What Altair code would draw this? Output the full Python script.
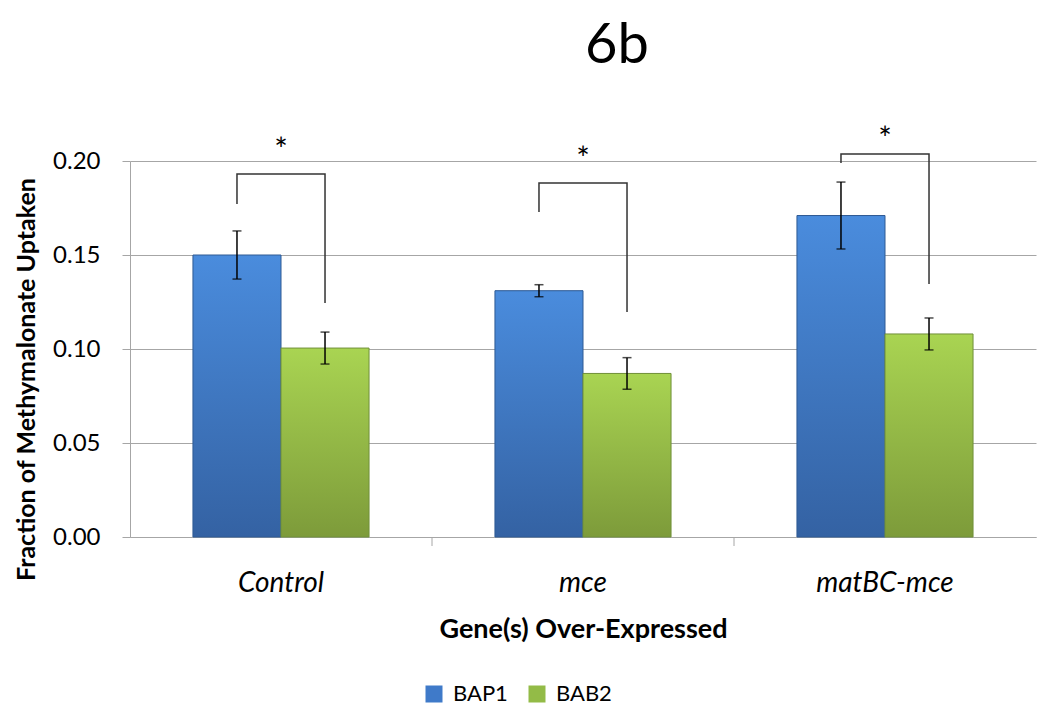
import altair as alt
import pandas as pd

# ---- data ----
genes = ["Control", "mce", "matBC-mce"]
series = ["BAP1", "BAB2"]
bap1 = [0.150, 0.131, 0.171]
bab2 = [0.1005, 0.087, 0.108]
bap1_err = [0.0128, 0.0032, 0.0178]
bab2_err = [0.0085, 0.0084, 0.0085]
# significance brackets: left-leg end, top, right-leg end
bracket_left = [0.1771, 0.1729, 0.1990]
bracket_top = [0.1931, 0.1883, 0.2037]
bracket_right = [0.1245, 0.1197, 0.1346]
star_y = [0.2000, 0.1952, 0.2059]
y_ticks = [0.0, 0.05, 0.10, 0.15, 0.20]
boundaries = [1, 2]

FONT = "Lato"
GRID = "#A6A6A6"

rows = []
for i, g in enumerate(genes):
    for s, vals, errs in (("BAP1", bap1, bap1_err), ("BAB2", bab2, bab2_err)):
        rows.append({"Gene": g, "Series": s, "Value": vals[i],
                     "lo": vals[i] - errs[i], "hi": vals[i] + errs[i]})
bars = pd.DataFrame(rows)

brows = []
for i, g in enumerate(genes):
    brows += [
        {"Gene": g, "Series": "BAP1", "y": bracket_left[i], "k": 0},
        {"Gene": g, "Series": "BAP1", "y": bracket_top[i], "k": 1},
        {"Gene": g, "Series": "BAB2", "y": bracket_top[i], "k": 2},
        {"Gene": g, "Series": "BAB2", "y": bracket_right[i], "k": 3},
    ]
brackets = pd.DataFrame(brows)
stars = pd.DataFrame({"Gene": genes, "y": star_y, "t": ["*"] * 3})
ticks_df = pd.DataFrame({"b": boundaries})
title_df = pd.DataFrame({"t": ["6b"]})

x_enc = alt.X(
    "Gene:N", sort=genes,
    scale=alt.Scale(domain=genes, paddingInner=0.417, paddingOuter=0.2085),
    axis=alt.Axis(title="Gene(s) Over-Expressed", labelAngle=0,
                  labelFontStyle="italic", labelFontSize=28, labelFont=FONT,
                  labelColor="black", labelPadding=32, ticks=False,
                  domainColor=GRID, domainWidth=1,
                  titleFont=FONT, titleFontSize=27, titleFontWeight="bold",
                  titleColor="black", titleY=79),
)
xo_enc = alt.XOffset("Series:N", sort=series,
                     scale=alt.Scale(domain=series, paddingInner=0, paddingOuter=0))
y_scale = alt.Scale(domain=[0, 0.2], nice=False)
y_enc = alt.Y(
    "Value:Q", scale=y_scale,
    axis=alt.Axis(title="Fraction of Methymalonate Uptaken", values=y_ticks,
                  format=".2f", grid=True, gridColor=GRID, gridWidth=1,
                  tickColor=GRID, tickSize=8, domainColor=GRID,
                  labelFont=FONT, labelFontSize=24, labelColor="black",
                  labelPadding=22, titleFont=FONT, titleFontSize=25,
                  titleFontWeight="bold", titleColor="black",
                  titleX=-96, titleY=218, titleBaseline="alphabetic"),
)

base_bar = alt.Chart(bars).mark_bar().encode(
    x=x_enc, xOffset=xo_enc, y=y_enc,
    color=alt.Color("Series:N", sort=series,
                    scale=alt.Scale(domain=series, range=["#3F7AC9", "#93BB47"]),
                    legend=alt.Legend(title=None, orient="none", direction="horizontal",
                                      legendX=293, legendY=522, symbolType="square",
                                      symbolSize=289, symbolStrokeWidth=0,
                                      labelFont=FONT, labelFontSize=22, labelColor="black",
                                      labelOffset=8, columnPadding=18, padding=0)),
)


def grad_layer(name, top, bottom, stroke):
    return alt.Chart(bars).transform_filter(alt.datum.Series == name).mark_bar(
        fill=alt.Gradient(gradient="linear", x1=0, x2=0, y1=0, y2=1,
                          stops=[alt.GradientStop(color=top, offset=0),
                                 alt.GradientStop(color=bottom, offset=1)]),
        stroke=stroke, strokeWidth=1,
    ).encode(x=alt.X("Gene:N", sort=genes), xOffset=alt.XOffset("Series:N", sort=series),
             y=alt.Y("Value:Q"))


blue = grad_layer("BAP1", "#4A8CDD", "#3462A3", "#2F5A94")
green = grad_layer("BAB2", "#A9D452", "#7D9B3A", "#71903A")

err_rule = alt.Chart(bars).mark_rule(color="black", strokeWidth=1.5).encode(
    x=alt.X("Gene:N", sort=genes), xOffset=alt.XOffset("Series:N", sort=series),
    y="lo:Q", y2="hi:Q")
err_cap_hi = alt.Chart(bars).mark_tick(color="black", thickness=1.5, size=9).encode(
    x=alt.X("Gene:N", sort=genes), xOffset=alt.XOffset("Series:N", sort=series),
    y="hi:Q")
err_cap_lo = alt.Chart(bars).mark_tick(color="black", thickness=1.5, size=9).encode(
    x=alt.X("Gene:N", sort=genes), xOffset=alt.XOffset("Series:N", sort=series),
    y="lo:Q")

bracket_lines = alt.Chart(brackets).mark_line(color="#333333", strokeWidth=1.5,
                                              clip=False).encode(
    x=alt.X("Gene:N", sort=genes), xOffset=alt.XOffset("Series:N", sort=series),
    y=alt.Y("y:Q"), detail="Gene:N", order="k:Q")

star_text = alt.Chart(stars).mark_text(font=FONT, fontSize=32, baseline="alphabetic",
                                       align="center", color="black").encode(
    x=alt.X("Gene:N", sort=genes), y=alt.Y("y:Q"), text="t:N")

title_text = alt.Chart(title_df).mark_text(font=FONT, fontSize=56, baseline="alphabetic",
                                           align="center", color="black").encode(
    x=alt.value(487), y=alt.value(-98), text="t:N")

main = alt.layer(base_bar, blue, green, err_rule, err_cap_hi, err_cap_lo,
                 bracket_lines, star_text, title_text)

cat_ticks = alt.Chart(ticks_df).mark_rule(color=GRID, strokeWidth=1).encode(
    x=alt.X("b:Q", scale=alt.Scale(domain=[0, 3], nice=False), axis=None),
    y=alt.value(376), y2=alt.value(385))

chart = alt.layer(main, cat_ticks).resolve_scale(x="independent").properties(
    width=906, height=376,
    autosize=alt.AutoSizeParams(type="none"),
    padding={"left": 122, "top": 153, "right": 6, "bottom": 172},
).configure_view(stroke=None)

chart.save("out.html", embed_options={"renderer": "svg", "actions": False})
